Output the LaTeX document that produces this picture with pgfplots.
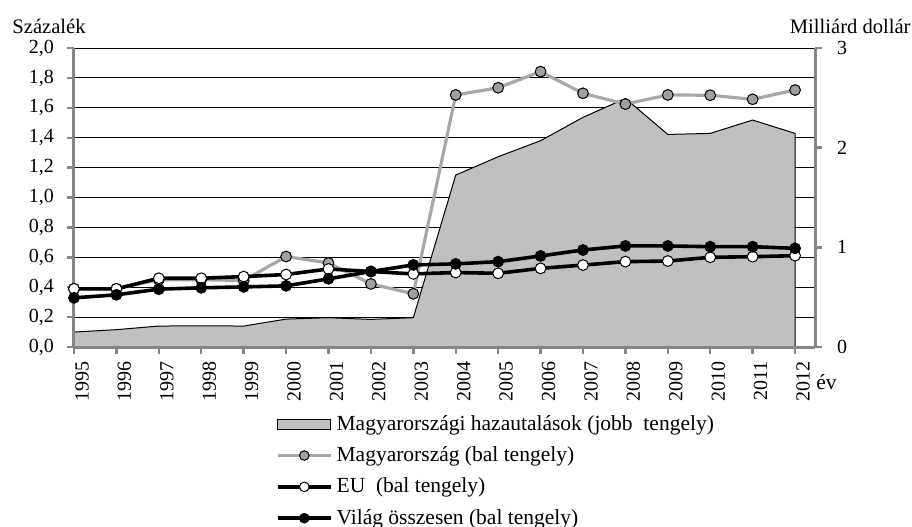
\documentclass[border=0pt]{standalone}
\usepackage{pgfplots}
\pgfplotsset{compat=1.18}
\usepackage{fontspec}
\setmainfont{Liberation Serif}

\definecolor{areagray}{HTML}{C0C0C0}
\definecolor{hungline}{HTML}{A8A8A8}
\definecolor{hungmark}{HTML}{A0A0A0}
\definecolor{axisgray}{HTML}{868686}

\pgfplotsset{
  common/.style={
    scale only axis, width=370.5pt, height=149.5pt,
    xmin=1995, xmax=2012.47,
    font=\fontsize{10.75}{13}\selectfont,
    tick label style={font=\fontsize{10}{12}\selectfont},
  },
  legline/.style={legend image code/.code={
    \draw[##1, mark=none] (0pt,0pt) -- (26.5pt,0pt);
    \draw[##1, mark size=2.4pt] plot coordinates {(13.25pt,0pt)};}},
}

\begin{document}
\begin{tikzpicture}
\useasboundingbox (-37pt,-89.5pt) rectangle (419pt,173.5pt);

% horizontal grid (left scale), drawn first so the area covers it
\begin{axis}[common, ymin=0, ymax=2,
  ytick={0,0.2,0.4,0.6,0.8,1.0,1.2,1.4,1.6,1.8,2.0}, yticklabels={},
  xtick=\empty, ymajorgrids,
  major grid style={draw=black, line width=0.5pt},
  axis line style={draw=none}, major tick length=0pt]
\end{axis}

% remittances, right axis (billion dollars)
\begin{axis}[common, ymin=0, ymax=3,
  axis y line*=right, axis x line=none,
  ytick={0,1,2,3}, tick align=outside, major tick length=3.5pt,
  axis line style={draw=axisgray, line width=1.5pt},
  tick style={draw=axisgray, line width=1.2pt},
  y tick label style={xshift=4pt, /pgf/number format/assume math mode=true}]
\addplot[fill=areagray, draw=black, line width=0.5pt] coordinates {
  (1995,0.15) (1996,0.174) (1997,0.21) (1998,0.213) (1999,0.21)
  (2000,0.28) (2001,0.294) (2002,0.277) (2003,0.294) (2004,1.725)
  (2005,1.909) (2006,2.07) (2007,2.304) (2008,2.494) (2009,2.133)
  (2010,2.143) (2011,2.277) (2012,2.143)} \closedcycle;
\end{axis}

% percentage series, left axis
\begin{axis}[common, ymin=0, ymax=2, clip=false,
  axis x line*=bottom, axis y line*=left,
  xtick={1995,1996,...,2012},
  ytick={0,0.2,0.4,0.6,0.8,1.0,1.2,1.4,1.6,1.8,2.0},
  tick align=outside, major tick length=3.5pt,
  axis line style={draw=axisgray, line width=1.5pt},
  tick style={draw=axisgray, line width=1.2pt},
  x tick label style={rotate=90, anchor=east, yshift=-4pt,
    /pgf/number format/1000 sep={}, /pgf/number format/assume math mode=true},
  y tick label style={xshift=-3pt, /pgf/number format/.cd, fixed, fixed zerofill,
    precision=1, use comma, assume math mode=true},
  legend cell align=left,
  legend style={at={(0.264,-0.2)}, anchor=north west, draw=none, fill=none,
    font=\fontsize{10.75}{13}\selectfont, row sep=2.7pt}]
\addlegendimage{legend image code/.code={
  \draw[fill=areagray, draw=black, line width=0.6pt] (0pt,-2.5pt) rectangle (26.5pt,2.5pt);}}
\addlegendentry{Magyarországi hazautalások (jobb\ \ tengely)}
\addplot[legline, draw=hungline, line width=1.6pt, mark=*, mark size=2.7pt,
  mark options={fill=hungmark, draw=black, line width=0.5pt}] coordinates {
  (1995,0.39) (1996,0.39) (1997,0.45) (1998,0.45) (1999,0.445)
  (2000,0.605) (2001,0.562) (2002,0.422) (2003,0.356) (2004,1.686)
  (2005,1.734) (2006,1.842) (2007,1.697) (2008,1.625) (2009,1.686)
  (2010,1.684) (2011,1.657) (2012,1.719)};
\addlegendentry{Magyarország (bal tengely)}
\addplot[legline, draw=black, line width=1.8pt, mark=*, mark size=2.7pt,
  mark options={fill=white, draw=black, line width=0.5pt}] coordinates {
  (1995,0.389) (1996,0.389) (1997,0.46) (1998,0.46) (1999,0.471)
  (2000,0.485) (2001,0.522) (2002,0.505) (2003,0.489) (2004,0.498)
  (2005,0.493) (2006,0.526) (2007,0.548) (2008,0.571) (2009,0.575)
  (2010,0.6) (2011,0.604) (2012,0.611)};
\addlegendentry{EU\ \ (bal tengely)}
\addplot[legline, draw=black, line width=1.8pt, mark=*, mark size=2.7pt,
  mark options={fill=black, draw=black, line width=0.5pt}] coordinates {
  (1995,0.329) (1996,0.349) (1997,0.387) (1998,0.396) (1999,0.402)
  (2000,0.409) (2001,0.456) (2002,0.505) (2003,0.549) (2004,0.556)
  (2005,0.571) (2006,0.609) (2007,0.649) (2008,0.676) (2009,0.676)
  (2010,0.671) (2011,0.671) (2012,0.66)};
\addlegendentry{Világ összesen (bal tengely)}
\node[anchor=base west, inner sep=0pt, xshift=-31pt, yshift=7.5pt,
  font=\fontsize{10.3}{12}\selectfont] at (rel axis cs:0,1) {Százalék};
\node[anchor=base east, inner sep=0pt, xshift=48pt, yshift=7.4pt,
  font=\fontsize{10.3}{12}\selectfont] at (rel axis cs:1,1) {Milliárd dollár};
\node[anchor=west, inner sep=0pt, xshift=0.5pt, yshift=-17.5pt] at (rel axis cs:1,0) {év};
\end{axis}
\end{tikzpicture}
\end{document}
